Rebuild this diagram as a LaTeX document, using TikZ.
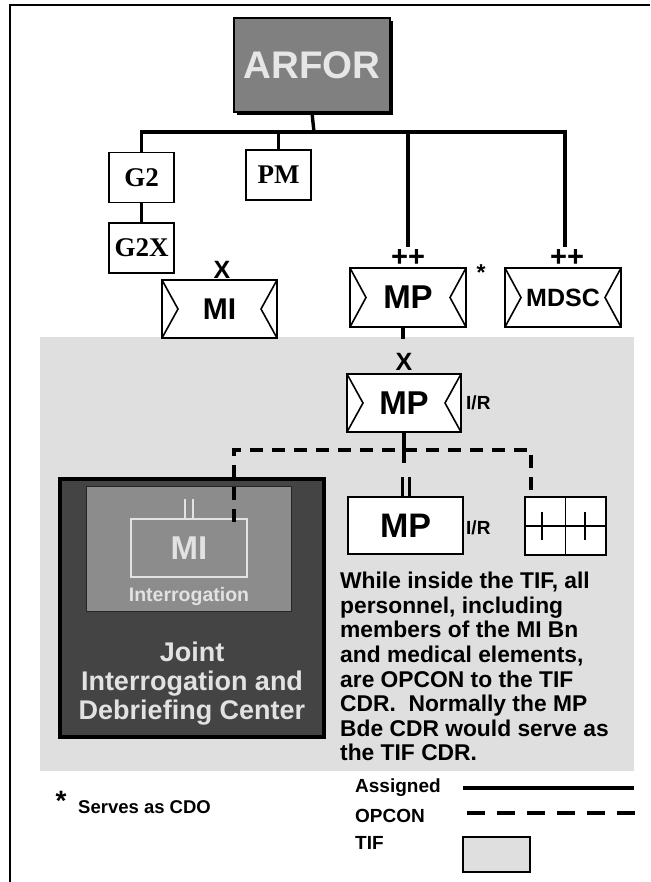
\documentclass[tikz,border=0pt]{standalone}
\usepackage{fontspec}
\setmainfont{Liberation Sans}
\newfontfamily\serifb{Liberation Serif}
\usetikzlibrary{calc,shadows}
\definecolor{tifgray}{RGB}{223,223,223}
\definecolor{arforgray}{RGB}{128,128,128}
\definecolor{arfortext}{RGB}{230,230,230}
\definecolor{jdark}{RGB}{68,68,68}
\definecolor{jmid}{RGB}{140,140,140}
\definecolor{jlight}{RGB}{226,226,226}
\tikzset{
  assigned/.style={line width=3.4pt},
  opcon/.style={line width=3.6pt, dash pattern=on 13pt off 9pt},
  fsz/.style={font=\bfseries\fontsize{#1}{#1}\selectfont},
  staffbox/.style={draw, line width=1.8pt, fill=white, minimum width=65pt, minimum height=50pt, inner sep=0pt, font=\serifb\bfseries\fontsize{27}{27}\selectfont},
  unitbox/.style={draw, line width=1.8pt, fill=white, minimum width=115pt, minimum height=58pt, inner sep=0pt,
    path picture={\draw[line width=1.6pt] (path picture bounding box.north west) -- ([xshift=16pt]path picture bounding box.west) -- (path picture bounding box.south west)
      (path picture bounding box.north east) -- ([xshift=-16pt]path picture bounding box.east) -- (path picture bounding box.south east);}},
  echelon/.style={fsz=#1, inner sep=0pt},
}
\begin{document}
\begin{tikzpicture}[x=1pt,y=-1pt]
\useasboundingbox (0,0) rectangle (650,882);
% TIF area
\fill[tifgray] (40,337) rectangle (634,771);
% outer frame
\draw[line width=2pt] (10,882) -- (10,5) -- (650,5);

% ARFOR
\node[draw, line width=1.8pt, fill=arforgray, minimum width=156pt, minimum height=94pt, inner sep=0pt,
  drop shadow={shadow xshift=3pt, shadow yshift=-3pt, fill=black, opacity=1},
  text=arfortext, fsz=38.5] (arfor) at (312,65) {ARFOR};

% staff boxes
\node[staffbox] (g2) at (141.5,177.5) {G2};
\node[staffbox] (g2x) at (141.5,248) {G2X};
\node[staffbox] (pm) at (278.5,175) {PM};

% units top row
\node[unitbox, fsz=30] (mitop) at (219.5,309) {MI};
\node[unitbox, minimum width=116pt, minimum height=59pt, fsz=33] (mptop) at (408,297.5) {MP};
\node[unitbox, minimum width=116pt, minimum height=59pt, fsz=25] (mdsc) at (563,297.5) {MDSC};
\node[echelon=25] (xmi) at (222,270) {X};
\node[echelon=29] (ppmp) at (408,258) {++};
\node[echelon=29] (ppmdsc) at (567,258) {++};
\node[fsz=23, inner sep=0pt] (star) at (481,273) {*};

% assigned bus
\coordinate (bus) at (314,132);
\coordinate (mpstem) at (408,247);
\coordinate (mdscstem) at (565,247);
\draw[assigned] (arfor.south) -- (bus);
\draw[assigned] (g2.north) |- (bus) -| (mdscstem);
\draw[assigned] (pm.north) -- (pm.north |- bus);
\draw[assigned] (mpstem) -- (mpstem |- bus);
\draw[assigned] (g2.south) -- (g2x.north);
\draw[assigned] ([xshift=-5pt]mptop.south) -- ++(0,11);

% MP I/R brigade
\node[echelon=25] (xmp) at (404,362) {X};
\node[unitbox, minimum width=114pt, fsz=33] (mpir) at (404,403) {MP};
\node[fsz=19, inner sep=0pt, anchor=west] (irone) at (466,403) {I/R};
\draw[assigned] (mpir.south) -- ++(0,30);

% MP battalion
\node[draw, line width=1.8pt, fill=white, minimum width=115pt, minimum height=57pt, inner sep=0pt, fsz=34] (mplow) at (405.5,525.5) {MP};
\node[fsz=19, inner sep=0pt, anchor=west] (irtwo) at (466,528) {I/R};
\draw[line width=3pt] ([xshift=-3.5pt]mplow.north) -- ++(0,-19);
\draw[line width=3pt] ([xshift=3.5pt]mplow.north) -- ++(0,-19);

% medical grid
\node[draw, line width=1.8pt, fill=white, minimum width=81pt, minimum height=58pt, inner sep=0pt] (grid) at (565.5,526) {};
\draw[line width=1.8pt] (grid.north) -- (grid.south) (grid.west) -- (grid.east);
\draw[line width=2pt] (542,512) -- (542,540) (585,512) -- (585,540);

% JIDC
\node[draw, line width=4pt, fill=jdark, minimum width=264pt, minimum height=258pt, inner sep=0pt] (jidc) at (192,608) {};
\node[draw=black!85, line width=1pt, fill=jmid, minimum width=205pt, minimum height=125pt, inner sep=0pt] (inner) at (188.5,548.5) {};
\node[draw=jlight, line width=2pt, minimum width=116pt, minimum height=58pt, inner sep=0pt, text=jlight, fsz=33] (miinner) at (189,548) {MI};
\draw[jlight, line width=2.5pt] ([xshift=-4pt]miinner.north) -- ++(0,-19);
\draw[jlight, line width=2.5pt] ([xshift=4pt]miinner.north) -- ++(0,-19);
\node[text=jlight, fsz=19.5, inner sep=0pt] (interr) at (189,596) {Interrogation};
\node[text=jlight, font=\bfseries\fontsize{27}{29}\selectfont, align=center, inner sep=0pt] (jtext) at (192,684) {Joint\\Interrogation and\\Debriefing Center};

% OPCON lines
\coordinate (opbar) at (404,450);
\draw[opcon] ([shift={(-14pt,-4pt)}]miinner.north east) |- (opbar) -| ([xshift=-34.5pt,yshift=3pt]grid.north);

% paragraph
\node[anchor=north west, inner sep=0pt, align=left, font=\bfseries\fontsize{22.8}{24.6}\selectfont] (para) at (340,572)
 {While inside the TIF, all\\personnel, including\\members of the MI Bn\\and medical elements,\\are OPCON to the TIF\\CDR.\ \ Normally the MP\\Bde CDR would serve as\\the TIF CDR.};

% legend
\node[fsz=28, inner sep=0pt] (lstar) at (61,801) {*};
\node[fsz=18.5, inner sep=0pt, anchor=west] (cdo) at (78,807) {Serves as CDO};
\node[fsz=19, inner sep=0pt, anchor=west] (lassigned) at (355,788) {Assigned};
\node[fsz=19, inner sep=0pt, anchor=west] (lopcon) at (355,816) {OPCON};
\node[fsz=19, inner sep=0pt, anchor=west] (ltif) at (355,843) {TIF};
\draw[line width=4pt] (463,788) -- (634,788);
\draw[line width=4pt, dash pattern=on 18pt off 12pt] (467,813) -- (640,813);
\draw[line width=1.8pt, fill=tifgray] (463,837) rectangle (530,872);
\end{tikzpicture}
\end{document}
